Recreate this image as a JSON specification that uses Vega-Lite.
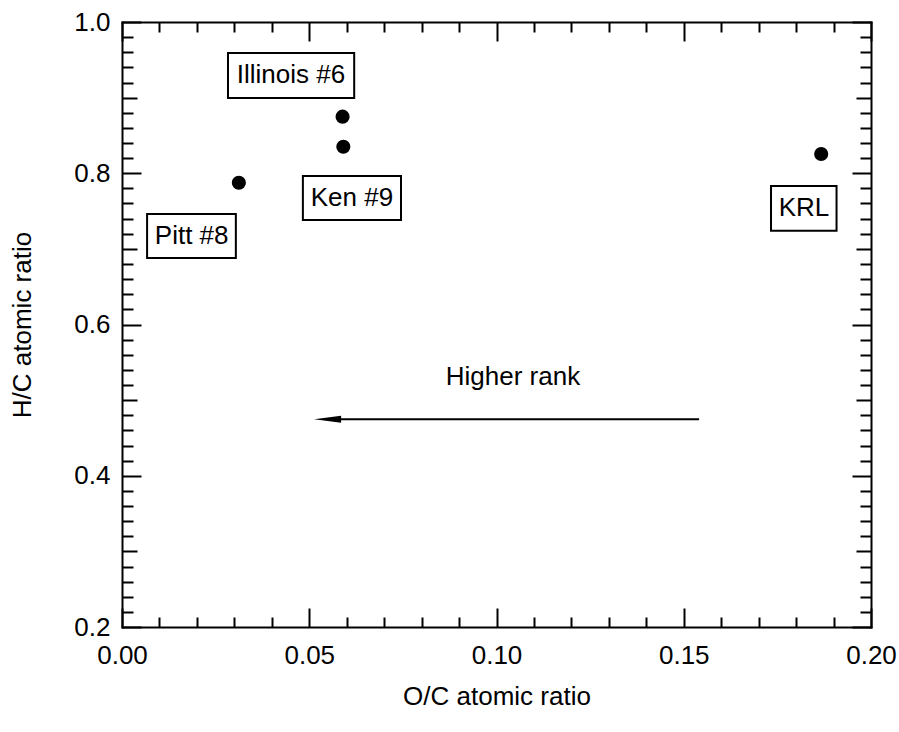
{
  "$schema": "https://vega.github.io/schema/vega-lite/v6.json",
  "autosize": {"type": "none"},
  "padding": {"left": 122, "top": 22, "right": 28, "bottom": 105},
  "width": 749,
  "height": 605,
  "background": "white",
  "config": {"view": {"stroke": null}, "font": "Liberation Sans"},
  "datasets": {
    "coals": [
      {"name": "Illinois #6", "oc": 0.0589, "hc": 0.8748},
      {"name": "Ken #9", "oc": 0.0591, "hc": 0.8351},
      {"name": "Pitt #8", "oc": 0.0312, "hc": 0.7875},
      {"name": "KRL", "oc": 0.1867, "hc": 0.8255}
    ],
    "labels": [
      {"label": "Illinois #6", "x1": 0.0283, "x2": 0.0620, "y1": 0.959, "y2": 0.8995, "tx": 0.0451, "ty": 0.9293},
      {"label": "Ken #9", "x1": 0.0483, "x2": 0.0745, "y1": 0.7964, "y2": 0.7382, "tx": 0.0614, "ty": 0.7673},
      {"label": "Pitt #8", "x1": 0.0067, "x2": 0.0304, "y1": 0.7462, "y2": 0.688, "tx": 0.0186, "ty": 0.7171},
      {"label": "KRL", "x1": 0.1733, "x2": 0.1908, "y1": 0.7832, "y2": 0.7241, "tx": 0.1821, "ty": 0.7537}
    ],
    "arrow": [
      {"xs": 0.1541, "xe": 0.0549, "y": 0.4747}
    ],
    "note": [
      {"text": "Higher rank", "x": 0.1044, "y": 0.5307}
    ]
  },
  "resolve": {"axis": {"x": "independent", "y": "independent"}},
  "layer": [
    {
      "data": {"name": "labels"},
      "mark": {"type": "rect", "fill": "white", "stroke": "black", "strokeWidth": 2},
      "encoding": {
        "x": {"field": "x1", "type": "quantitative", "scale": {"domain": [0, 0.2], "nice": false, "zero": false},
          "axis": {"orient": "top", "values": [0,0.01,0.02,0.03,0.04,0.05,0.06,0.07,0.08,0.09,0.1,0.11,0.12,0.13,0.14,0.15,0.16,0.17,0.18,0.19,0.2],
            "tickSize": {"condition": {"test": "round(datum.value*100)%5===0", "value": -19}, "value": -10},
            "tickWidth": 2, "tickColor": "black", "domainColor": "black", "domainWidth": 2, "domainCap": "square",
            "labels": false, "title": null, "grid": false}},
        "x2": {"field": "x2"},
        "y": {"field": "y1", "type": "quantitative", "scale": {"domain": [0.2, 1.0], "nice": false, "zero": false},
          "axis": {"orient": "right", "values": [0.2,0.22,0.24,0.26,0.28,0.3,0.32,0.34,0.36,0.38,0.4,0.42,0.44,0.46,0.48,0.5,0.52,0.54,0.56,0.58,0.6,0.62,0.64,0.66,0.68,0.7,0.72,0.74,0.76,0.78,0.8,0.82,0.84,0.86,0.88,0.9,0.92,0.94,0.96,0.98,1.0],
            "tickSize": {"condition": [{"test": "round(datum.value*100)%20===0", "value": -19}, {"test": "round(datum.value*100)%10===0", "value": -15}], "value": -11},
            "tickWidth": 2, "tickColor": "black", "domainColor": "black", "domainWidth": 2, "domainCap": "square",
            "labels": false, "title": null, "grid": false}},
        "y2": {"field": "y2"}
      }
    },
    {
      "data": {"name": "labels"},
      "mark": {"type": "text", "font": "Liberation Sans", "fontSize": 26, "color": "black", "align": "center", "baseline": "middle"},
      "encoding": {
        "x": {"field": "tx", "type": "quantitative", "scale": {"domain": [0, 0.2], "nice": false, "zero": false}, "axis": null},
        "y": {"field": "ty", "type": "quantitative", "scale": {"domain": [0.2, 1.0], "nice": false, "zero": false}, "axis": null},
        "text": {"field": "label"}
      }
    },
    {
      "data": {"name": "arrow"},
      "mark": {"type": "rule", "color": "black", "strokeWidth": 2},
      "encoding": {
        "x": {"field": "xs", "type": "quantitative", "scale": {"domain": [0, 0.2], "nice": false, "zero": false}, "axis": null},
        "x2": {"field": "xe"},
        "y": {"field": "y", "type": "quantitative", "scale": {"domain": [0.2, 1.0], "nice": false, "zero": false}, "axis": null}
      }
    },
    {
      "data": {"name": "arrow"},
      "mark": {"type": "point", "shape": "M -1 0 L 1 -0.26 L 1 0.26 Z", "size": 729, "filled": true, "color": "black", "opacity": 1, "strokeWidth": 0},
      "encoding": {
        "x": {"field": "xe", "type": "quantitative", "scale": {"domain": [0, 0.2], "nice": false, "zero": false}, "axis": null},
        "y": {"field": "y", "type": "quantitative", "scale": {"domain": [0.2, 1.0], "nice": false, "zero": false}, "axis": null}
      }
    },
    {
      "data": {"name": "note"},
      "mark": {"type": "text", "font": "Liberation Sans", "fontSize": 26, "color": "black", "align": "center", "baseline": "middle"},
      "encoding": {
        "x": {"field": "x", "type": "quantitative", "scale": {"domain": [0, 0.2], "nice": false, "zero": false}, "axis": null},
        "y": {"field": "y", "type": "quantitative", "scale": {"domain": [0.2, 1.0], "nice": false, "zero": false}, "axis": null},
        "text": {"field": "text"}
      }
    },
    {
      "data": {"name": "coals"},
      "mark": {"type": "point", "shape": "circle", "size": 200, "filled": true, "color": "black", "opacity": 1},
      "encoding": {
        "x": {"field": "oc", "type": "quantitative", "scale": {"domain": [0, 0.2], "nice": false, "zero": false},
          "axis": {"orient": "bottom", "values": [0,0.01,0.02,0.03,0.04,0.05,0.06,0.07,0.08,0.09,0.1,0.11,0.12,0.13,0.14,0.15,0.16,0.17,0.18,0.19,0.2],
            "tickSize": {"condition": {"test": "round(datum.value*100)%5===0", "value": -19}, "value": -10},
            "tickWidth": 2, "tickColor": "black", "domainColor": "black", "domainWidth": 2, "domainCap": "square",
            "labelExpr": "round(datum.value*100)%5===0 ? format(datum.value,'.2f') : ''",
            "labelFont": "Liberation Sans", "labelFontSize": 26, "labelColor": "black", "labelPadding": 34,
            "labelFlush": false, "labelOverlap": false, "labelBound": false,
            "title": "O/C atomic ratio", "titleFont": "Liberation Sans", "titleFontSize": 26, "titleFontWeight": "normal", "titleColor": "black", "titlePadding": 6,
            "grid": false}},
        "y": {"field": "hc", "type": "quantitative", "scale": {"domain": [0.2, 1.0], "nice": false, "zero": false},
          "axis": {"orient": "left", "values": [0.2,0.22,0.24,0.26,0.28,0.3,0.32,0.34,0.36,0.38,0.4,0.42,0.44,0.46,0.48,0.5,0.52,0.54,0.56,0.58,0.6,0.62,0.64,0.66,0.68,0.7,0.72,0.74,0.76,0.78,0.8,0.82,0.84,0.86,0.88,0.9,0.92,0.94,0.96,0.98,1.0],
            "tickSize": {"condition": [{"test": "round(datum.value*100)%20===0", "value": -19}, {"test": "round(datum.value*100)%10===0", "value": -15}], "value": -11},
            "tickWidth": 2, "tickColor": "black", "domainColor": "black", "domainWidth": 2, "domainCap": "square",
            "labelExpr": "round(datum.value*100)%20===0 ? format(datum.value,'.1f') : ''",
            "labelFont": "Liberation Sans", "labelFontSize": 26, "labelColor": "black", "labelPadding": 31,
            "labelFlush": false, "labelOverlap": false, "labelBound": false,
            "title": "H/C atomic ratio", "titleFont": "Liberation Sans", "titleFontSize": 26, "titleFontWeight": "normal", "titleColor": "black", "titlePadding": 38,
            "grid": false}}
      }
    }
  ]
}
